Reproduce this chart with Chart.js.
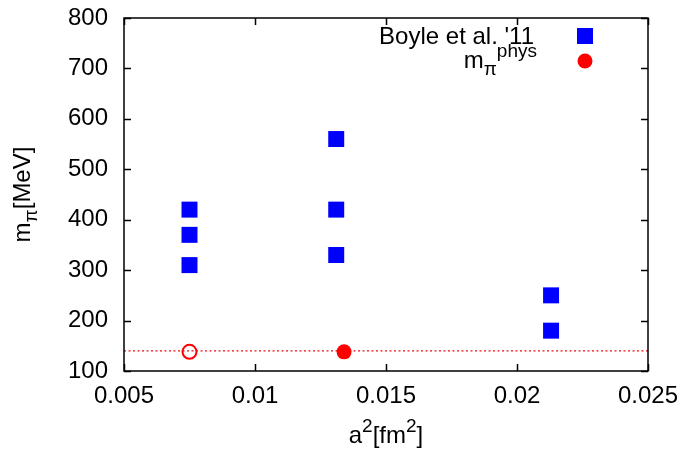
<!DOCTYPE html>
<html>
<head>
<meta charset="utf-8">
<script src="https://cdn.jsdelivr.net/npm/chart.js@4.4.1/dist/chart.umd.min.js"></script>
<style>
    html, body { margin: 0; padding: 0; background: #fff; }
    #wrap { width: 683px; height: 450px; }
</style>
</head>
<body>
<div id="wrap"><canvas id="chartMpi" width="683" height="450"></canvas></div>
<script>
// ── DATOS ──
const xTicks = [0.005, 0.01, 0.015, 0.02, 0.025];
const yTicks = [100, 200, 300, 400, 500, 600, 700, 800];

// Boyle et al. '11 (cuadrados azules)
const boyleA2 = [0.0075, 0.0075, 0.0075, 0.0131, 0.0131, 0.0131, 0.0213, 0.0213];
const boyleMpi = [310, 370, 420, 330, 420, 560, 180, 250];

// m_pi^phys (círculo lleno) y punto abierto
const physA2 = [0.0134];
const physMpi = [138];
const openA2 = [0.0075];
const openMpi = [138];

// línea punteada horizontal
const physLineX = [0.005, 0.025];
const physLineY = 140;

const FONT = "'Liberation Sans', Arial, Helvetica, sans-serif";
const FS = 24;
Chart.defaults.font.family = FONT;
Chart.defaults.color = "#000";

const toPts = (xs, ys) => xs.map((x, i) => ({ x: x, y: Array.isArray(ys) ? ys[i] : ys }));

// texto con sub/superíndices: partes [{t, s: 'sub'|'sup'}]
function richWidth(ctx, parts) {
    let w = 0;
    parts.forEach(p => {
        ctx.font = (p.s ? Math.round(FS * 0.8) : FS) + "px " + FONT;
        w += ctx.measureText(p.t).width;
    });
    return w;
}
function drawRich(ctx, parts, x, y, align) {
    const w = richWidth(ctx, parts);
    let cx = align === "right" ? x - w : align === "center" ? x - w / 2 : x;
    ctx.textAlign = "left";
    ctx.textBaseline = "alphabetic";
    parts.forEach(p => {
        const size = p.s ? Math.round(FS * 0.8) : FS;
        ctx.font = size + "px " + FONT;
        let dy = 0;
        if (p.s === "sup") dy = -FS * 0.45;
        if (p.s === "sub") dy = FS * 0.3;
        ctx.fillText(p.t, cx, y + dy);
        cx += ctx.measureText(p.t).width;
    });
}

// ── marco, marcas internas, títulos y leyenda ──
const framePlugin = {
    id: "frame",
    afterDraw(chart) {
        const { ctx, chartArea: a, scales: { x, y } } = chart;
        ctx.save();
        ctx.strokeStyle = "#000";
        ctx.lineWidth = 1.5;
        ctx.strokeRect(a.left, a.top, a.right - a.left, a.bottom - a.top);
        const tl = 7;
        ctx.beginPath();
        xTicks.forEach(v => {
            const px = Math.round(x.getPixelForValue(v)) + 0.5;
            ctx.moveTo(px, a.bottom); ctx.lineTo(px, a.bottom - tl);
            ctx.moveTo(px, a.top); ctx.lineTo(px, a.top + tl);
        });
        yTicks.forEach(v => {
            const py = Math.round(y.getPixelForValue(v)) + 0.5;
            ctx.moveTo(a.left, py); ctx.lineTo(a.left + tl, py);
            ctx.moveTo(a.right, py); ctx.lineTo(a.right - tl, py);
        });
        ctx.stroke();

        ctx.fillStyle = "#000";
        // título eje x
        drawRich(ctx, [{ t: "a" }, { t: "2", s: "sup" }, { t: "[fm" }, { t: "2", s: "sup" }, { t: "]" }],
            (a.left + a.right) / 2, 443, "center");
        // título eje y
        ctx.save();
        ctx.translate(30, (a.top + a.bottom) / 2);
        ctx.rotate(-Math.PI / 2);
        drawRich(ctx, [{ t: "m" }, { t: "π", s: "sub" }, { t: "[MeV]" }], 0, 0, "center");
        ctx.restore();

        // leyenda
        drawRich(ctx, [{ t: "Boyle et al. '11" }], 534, 44, "right");
        drawRich(ctx, [{ t: "m" }, { t: "π", s: "sub" }, { t: "phys", s: "sup" }], 537, 68, "right");
        ctx.fillStyle = "#0000ff";
        ctx.fillRect(577, 28, 16, 16);
        ctx.fillStyle = "#ff0000";
        ctx.beginPath();
        ctx.arc(585, 61, 7.5, 0, Math.PI * 2);
        ctx.fill();
        ctx.restore();
    }
};

new Chart(document.getElementById("chartMpi"), {
    type: "scatter",
    data: {
        datasets: [
            {
                label: "phys line",
                data: toPts(physLineX, physLineY),
                showLine: true,
                borderColor: "#ee1111",
                borderWidth: 1.2,
                borderDash: [2, 2.5],
                pointRadius: 0,
                order: 10
            },
            {
                label: "Boyle et al. '11",
                data: toPts(boyleA2, boyleMpi),
                pointStyle: "rect",
                pointRadius: 11.3,
                backgroundColor: "#0000ff",
                borderWidth: 0,
                order: 2
            },
            {
                label: "m_pi phys",
                data: toPts(physA2, physMpi),
                pointStyle: "circle",
                pointRadius: 7.5,
                backgroundColor: "#ff0000",
                borderWidth: 0,
                order: 1
            },
            {
                label: "open",
                data: toPts(openA2, openMpi),
                pointStyle: "circle",
                pointRadius: 7,
                backgroundColor: "rgba(255,255,255,0)",
                borderColor: "#ff0000",
                borderWidth: 2,
                order: 1
            }
        ]
    },
    options: {
        responsive: false,
        devicePixelRatio: 1,
        animation: false,
        layout: { padding: { top: 18, right: 35, left: 0, bottom: 0 } },
        plugins: { legend: { display: false }, tooltip: { enabled: false } },
        scales: {
            x: {
                type: "linear",
                min: xTicks[0],
                max: xTicks[xTicks.length - 1],
                grid: { display: false, drawTicks: false },
                border: { display: false },
                afterBuildTicks: s => { s.ticks = xTicks.map(v => ({ value: v })); },
                afterFit: s => { s.height = 79; s.paddingLeft = 0; s.paddingRight = 0; },
                ticks: {
                    font: { size: FS },
                    padding: 11,
                    maxRotation: 0,
                    callback: v => String(+v.toFixed(4))
                }
            },
            y: {
                type: "linear",
                min: yTicks[0],
                max: yTicks[yTicks.length - 1],
                grid: { display: false, drawTicks: false },
                border: { display: false },
                afterBuildTicks: s => { s.ticks = yTicks.map(v => ({ value: v })); },
                afterFit: s => { s.width = 124; s.paddingTop = 0; s.paddingBottom = 0; },
                ticks: { font: { size: FS }, padding: 16 }
            }
        }
    },
    plugins: [framePlugin]
});
</script>
</body>
</html>
